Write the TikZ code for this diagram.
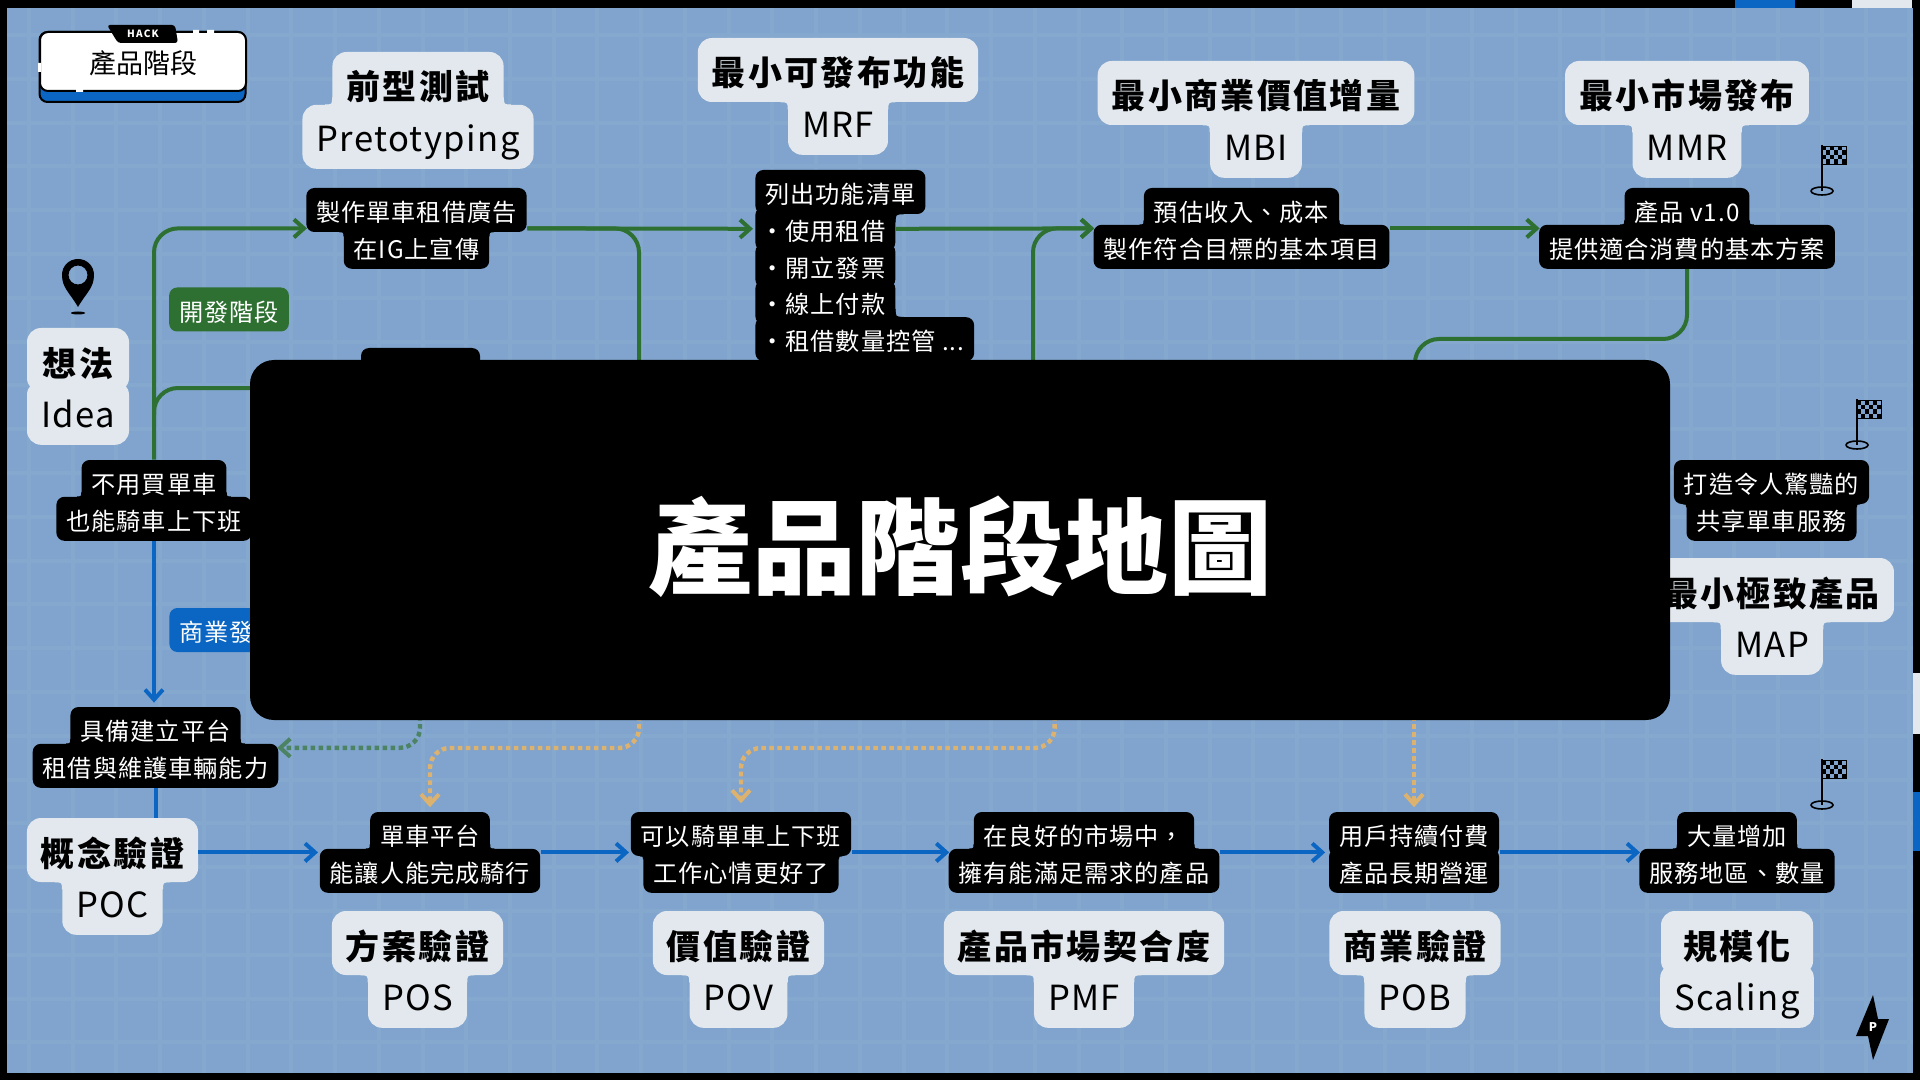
\documentclass[tikz,border=0pt]{standalone}
\usepackage{fontspec}
\setmainfont{Noto Sans CJK TC}
\newfontfamily\spaced[LetterSpace=4]{Noto Sans CJK TC}
\newfontfamily\spacedhead[LetterSpace=7]{Noto Sans CJK TC}
\usetikzlibrary{arrows.meta,positioning,fit}

\definecolor{bgblue}{HTML}{80A4CD}
\definecolor{gridblue}{HTML}{85A8CF}
\definecolor{paper}{HTML}{E2E8ED}
\definecolor{devgreen}{HTML}{2E7031}
\definecolor{bizblue}{HTML}{0B66C3}
\definecolor{sand}{HTML}{DDB26E}
\definecolor{dotgreen}{HTML}{4C8363}

\tikzset{
  tagbox/.style={fill=black,text=white,rounded corners=4pt,inner ysep=0pt,inner xsep=5pt,
    minimum height=22pt,text height=11.8pt,text depth=.2pt,font=\spaced\fontsize{12.1}{13}\selectfont},
  headbox/.style={fill=paper,text=black,rounded corners=7pt,inner ysep=0pt,inner xsep=7pt,
    minimum height=32pt,text height=16.5pt,text depth=.5pt,font=\spacedhead\bfseries\fontsize{17}{18}\selectfont},
  namebox/.style={headbox,font=\spaced\fontsize{17.3}{18}\selectfont,text height=15.8pt,text depth=1.5pt},
  group/.style={inner sep=0pt},
  phase/.style={tagbox,rounded corners=4pt},
  barb/.style={-{Straight Barb[length=5pt,width=9pt,line width=2pt]},shorten >=-.7pt},
  devline/.style={draw=devgreen,line width=2pt,rounded corners=12pt},
  bizline/.style={draw=bizblue,line width=2pt,rounded corners=12pt},
  sandline/.style={draw=sand,line width=2.2pt,rounded corners=10pt,dash pattern=on 2.3pt off 1.7pt},
  greenline/.style={draw=dotgreen,line width=2.2pt,rounded corners=10pt,dash pattern=on 2.3pt off 1.7pt},
  flagpic/.pic={
    \draw[black,line width=.7pt] (0,0) -- (0,46);
    \draw[black,line width=.8pt] (0,46) ellipse [x radius=11,y radius=4];
    \draw[black,line width=.4pt,fill=bgblue] (0,1) rectangle (24,19);
    \foreach \r in {0,...,3}
      \foreach \c in {0,...,5}{
        \pgfmathparse{int(mod(\r+\c,2))}
        \ifnum\pgfmathresult=0 \fill[black] (\c*4,1+\r*4.5) rectangle ++(4,4.5);\fi
      }
  }
}

% concave corner where a narrow line meets a wide line
\newcommand{\joinpart}[8]{%
  \begin{scope}[shift={(#1.#3 |- #2.#5)}]
    \fill[#8] ({#4*#7},0) .. controls (0,0) .. (0,{#6*#7}) -- ({-#4*#7},{#6*#7})
      -- ({-#4*#7},{-#6*#7}) -- ({#4*#7},{-#6*#7}) -- cycle;
  \end{scope}}
\newcommand{\joinup}[4]{\joinpart{#1}{#2}{west}{-1}{north}{-1}{#3}{#4}\joinpart{#1}{#2}{east}{1}{north}{-1}{#3}{#4}}
\newcommand{\joindown}[4]{\joinpart{#1}{#2}{west}{-1}{south}{1}{#3}{#4}\joinpart{#1}{#2}{east}{1}{south}{1}{#3}{#4}}

\begin{document}
\begin{tikzpicture}[x=.5pt,y=-.5pt]
\useasboundingbox (0,0) rectangle (1920,1080);

% frame and grid
\fill[black] (0,0) rectangle (1920,1080);
\fill[bizblue] (1735,0) rectangle (1795,8);
\fill[paper] (1852,0) rectangle (1912,8);
\fill[paper] (1913,673) rectangle (1920,734);
\fill[bizblue] (1913,792) rectangle (1920,851);
\fill[bgblue] (7,8) rectangle (1913,1073);
\foreach \i in {0,...,43}
  \draw[gridblue,line width=2pt] ({29+43.73*\i},8) -- ({29+43.73*\i},1073);
\foreach \i in {0,...,23}
  \draw[gridblue,line width=2pt] (7,{35+43.8*\i}) -- (1913,{35+43.8*\i});

% title card
\node[draw=black,fill=bizblue,line width=1pt,rounded corners=4pt,minimum width=103pt,minimum height=35pt,inner sep=0pt] (cardback) at (142.5,67) {};
\node[draw=black,fill=white,line width=1pt,rounded corners=4pt,minimum width=103pt,minimum height=29.5pt,inner sep=0pt,
  text height=12.9pt,text depth=.6pt,font=\fontsize{13.5}{15}\selectfont] (card) at (143,61.5) {產品階段};
\fill[black,rounded corners=1.5pt] (107,25) -- (175,25) -- (178,43) -- (118,43) -- cycle;
\node[text=white,inner sep=0pt,font=\fontsize{5}{6}\selectfont\bfseries\addfontfeature{LetterSpace=12}] (hack) at (143,33.5) {HACK};
\fill[white] (193,30) rectangle (199,33) (207,30) rectangle (214,33) (38,63) rectangle (41,72) (76,89) rectangle (83,92);

% idea
\fill[black,even odd rule] (78,307) .. controls (70,293) and (62,288) .. (62,275) .. controls (62,266) and (69,259) .. (78,259)
  .. controls (87,259) and (94,266) .. (94,275) .. controls (94,288) and (86,293) .. (78,307) -- cycle (78,275) circle (9.5);
\fill[black] (78,313) ellipse [x radius=7,y radius=1.5];
\node[headbox,minimum width=51pt] (idea1) at (78,360) {想法};
\node[namebox,minimum width=51pt,below=-6pt of idea1] (idea2) {Idea};

% top row
\node[headbox] (pre1) at (418,84) {前型測試};
\node[namebox,below=-6pt of pre1] (pre2) {Pretotyping};
\joinup{pre1}{pre2}{7}{paper}
\node[headbox] (mrf1) at (838,70) {最小可發布功能};
\node[namebox,below=-6pt of mrf1] (mrf2) {MRF};
\joindown{mrf2}{mrf1}{7}{paper}
\node[headbox] (mbi1) at (1256,93) {最小商業價值增量};
\node[namebox,below=-6pt of mbi1] (mbi2) {MBI};
\joindown{mbi2}{mbi1}{7}{paper}
\node[headbox] (mmr1) at (1687,93) {最小市場發布};
\node[namebox,below=-6pt of mmr1] (mmr2) {MMR};
\joindown{mmr2}{mmr1}{7}{paper}

\node[tagbox] (ad1) at (416.5,210) {製作單車租借廣告};
\node[tagbox,below=-4pt of ad1] (ad2) {在IG上宣傳};
\joindown{ad2}{ad1}{4}{black}
\node[group,fit=(ad1) (ad2)] (ad) {};

\node[tagbox,anchor=west] (list1) at (755,192) {列出功能清單};
\node[tagbox,anchor=north west] (list2) at ([yshift=4pt]list1.south west) {\hspace{-2.5pt}・使用租借};
\node[tagbox,anchor=north west] (list3) at ([yshift=4pt]list2.south west) {\hspace{-2.5pt}・開立發票};
\node[tagbox,anchor=north west] (list4) at ([yshift=4pt]list3.south west) {\hspace{-2.5pt}・線上付款};
\node[tagbox,anchor=north west] (list5) at ([yshift=4pt]list4.south west) {\hspace{-2.5pt}・租借數量控管 ...};
\joinpart{list2}{list1}{east}{1}{south}{1}{8}{black}
\joinpart{list4}{list5}{east}{1}{north}{-1}{8}{black}

\node[tagbox] (est1) at (1241.5,210) {預估收入、成本};
\node[tagbox,below=-4pt of est1] (est2) {製作符合目標的基本項目};
\joinup{est1}{est2}{4}{black}
\node[group,fit=(est1) (est2)] (est) {};

\node[tagbox] (ver1) at (1687,210) {產品 v1.0};
\node[tagbox,below=-4pt of ver1] (ver2) {提供適合消費的基本方案};
\joinup{ver1}{ver2}{4}{black}
\node[group,fit=(ver1) (ver2)] (ver) {};
\pic at (1822,145) {flagpic};

% phases
\node[phase,fill=devgreen] (devtag) at (229,309.5) {開發階段};
\node[phase,fill=bizblue,anchor=west] (biztag) at (169,630) {商業發};
\node[tagbox,minimum width=59.5pt] (hiddentab) at (420.5,370) {};

% left column
\node[tagbox] (need1) at (154,482) {不用買單車};
\node[tagbox,below=-4pt of need1] (need2) {也能騎車上下班};
\joinup{need1}{need2}{4}{black}
\node[tagbox] (cap1) at (155.5,729) {具備建立平台};
\node[tagbox,below=-4pt of cap1] (cap2) {租借與維護車輛能力};
\joinup{cap1}{cap2}{4}{black}
\node[headbox] (poc1) at (112.5,850) {概念驗證};
\node[namebox,below=-6pt of poc1] (poc2) {POC};
\joindown{poc2}{poc1}{7}{paper}

% right column
\pic at (1857,399) {flagpic};
\node[tagbox] (wow1) at (1771.5,482) {打造令人驚豔的};
\node[tagbox,below=-4pt of wow1] (wow2) {共享單車服務};
\joindown{wow2}{wow1}{3}{black}
\node[headbox] (map1) at (1772,590) {最小極致產品};
\node[namebox,below=-6pt of map1] (map2) {MAP};
\joindown{map2}{map1}{7}{paper}

% bottom row
\node[tagbox] (ride1) at (430,834) {單車平台};
\node[tagbox,below=-4pt of ride1] (ride2) {能讓人能完成騎行};
\joinup{ride1}{ride2}{4}{black}
\node[group,fit=(ride1) (ride2)] (ride) {};
\node[tagbox] (work1) at (741,834) {可以騎單車上下班};
\node[tagbox,below=-4pt of work1] (work2) {工作心情更好了};
\joindown{work2}{work1}{3}{black}
\node[group,fit=(work1) (work2)] (work) {};
\node[tagbox] (fit1) at (1084,834) {在良好的市場中，};
\node[tagbox,below=-4pt of fit1] (fit2) {擁有能滿足需求的產品};
\joinup{fit1}{fit2}{4}{black}
\node[group,fit=(fit1) (fit2)] (market) {};
\node[tagbox] (pay1) at (1414,834) {用戶持續付費};
\node[tagbox,below=-4pt of pay1] (pay2) {產品長期營運};
\node[group,fit=(pay1) (pay2)] (pay) {};
\node[tagbox] (more1) at (1737,834) {大量增加};
\node[tagbox,below=-4pt of more1] (more2) {服務地區、數量};
\joinup{more1}{more2}{4}{black}
\node[group,fit=(more1) (more2)] (more) {};
\pic at (1822,759) {flagpic};

\node[headbox] (pos1) at (417.5,943) {方案驗證};
\node[namebox,below=-6pt of pos1] (pos2) {POS};
\joindown{pos2}{pos1}{7}{paper}
\node[headbox] (pov1) at (738.5,943) {價值驗證};
\node[namebox,below=-6pt of pov1] (pov2) {POV};
\joindown{pov2}{pov1}{7}{paper}
\node[headbox] (pmf1) at (1084,943) {產品市場契合度};
\node[namebox,below=-6pt of pmf1] (pmf2) {PMF};
\joindown{pmf2}{pmf1}{7}{paper}
\node[headbox] (pob1) at (1415,943) {商業驗證};
\node[namebox,below=-6pt of pob1] (pob2) {POB};
\joindown{pob2}{pob1}{7}{paper}
\node[headbox,minimum width=76pt] (sca1) at (1737,943) {規模化};
\node[namebox,minimum width=76pt,below=-6pt of sca1] (sca2) {Scaling};

% ends hidden under the panel
\coordinate (hub) at (154,415);
\coordinate (devend) at (300,388);
\coordinate (mrfdown) at (639,400);
\coordinate (mbiup) at (1033,400);
\coordinate (mapturn) at (1415,339);
\coordinate (mapup) at (1415,400);
\coordinate (gstart) at (420,700);
\coordinate (sstart) at (639,700);
\coordinate (sturn) at (550,748);
\coordinate (tstart) at (1054.6,700);
\coordinate (tturn) at (900,748);
\coordinate (ustart) at (1414,700);

% connectors
\draw[devline,barb] (need1.north) |- (ad.west);
\draw[devline] (hub) |- (devend);
\draw[devline,barb,shorten >=1pt] (ad.east) -- (list2.west);
\draw[devline] (ad.east) -| (mrfdown);
\draw[devline,barb] (list2.east) -- (est.west);
\draw[devline,barb] (mbiup) |- (est.west);
\draw[devline,barb] (est.east) -- (ver.west);
\draw[devline] (ver2.south) |- (mapturn) -- (mapup);
\draw[bizline,barb,shorten >=2pt] (need2.south) -- (need2.south |- cap1.north);
\draw[bizline] (cap2.south) -- (cap2.south |- poc1.north);
\draw[bizline,barb,shorten >=.5pt] (poc1.east |- ride.west) -- (ride.west);
\draw[bizline,barb,shorten >=.5pt] (ride.east) -- (work.west);
\draw[bizline,barb] (work.east) -- (market.west);
\draw[bizline,barb,shorten >=1.5pt] (market.east) -- (pay.west);
\draw[bizline,barb] (pay.east) -- (more.west);
\draw[greenline,barb] (gstart) |- ([yshift=9pt]cap2.east);
\draw[sandline,barb,shorten >=2pt] (sstart) |- (sturn) -| (ride.north);
\draw[sandline,barb,shorten >=4pt] (tstart) |- (tturn) -| (work.north);
\draw[sandline,barb,shorten >=2pt] (ustart) -- (pay.north);

% logo
\fill[black] (1873,995) -- (1878,1019) -- (1889,1019) -- (1873,1060) -- (1868,1036) -- (1856,1036) -- cycle;
\node[text=white,inner sep=0pt,font=\fontsize{6}{7}\selectfont\bfseries] (logop) at (1873,1027) {P};

% panel on top
\node[fill=black,text=white,rounded corners=12pt,minimum width=710pt,minimum height=180pt,inner sep=0pt,
  text height=49.25pt,text depth=2.75pt,font=\bfseries\fontsize{52}{56}\selectfont] (panel) at (960,540) {產品階段地圖};
\end{tikzpicture}
\end{document}
